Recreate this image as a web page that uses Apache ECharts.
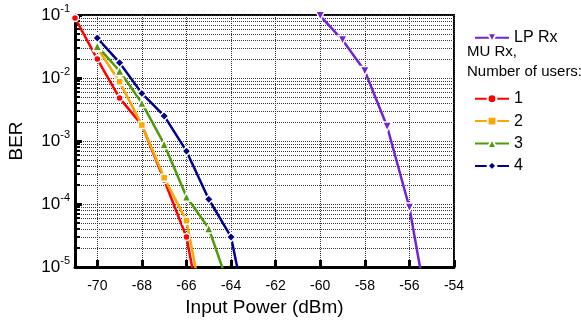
<!DOCTYPE html>
<html>
<head>
<meta charset="utf-8">
<script src="https://cdn.jsdelivr.net/npm/echarts@6/dist/echarts.min.js"></script>
<style>
html,body{margin:0;padding:0;background:#fff;}
#c{width:581px;height:322px;}
</style>
</head>
<body>
<div id="c"></div>
<script>
// ---- data ----
var xTicks = [-70, -68, -66, -64, -62, -60, -58, -56, -54];

var x1 = [-71, -70, -69, -68, -67, -66, -65];
var ber1 = [0.09, 0.02, 0.0048, 0.0018, 0.00024, 0.00003, 4e-7];

var x2 = [-70, -69, -68, -67, -66, -65];
var ber2 = [0.03, 0.0087, 0.0018, 0.00026, 0.000054, 8e-7];

var x3 = [-70, -69, -68, -67, -66, -65, -64];
var ber3 = [0.032, 0.0129, 0.0040, 0.00089, 0.00013, 0.000041, 3.9e-6];

var x4 = [-70, -69, -68, -67, -66, -65, -64, -63];
var ber4 = [0.043, 0.0175, 0.0057, 0.0025, 0.00069, 0.000119, 0.00003, 5.4e-7];

var xLP = [-60, -59, -58, -57, -56, -55];
var berLP = [0.097, 0.04, 0.0129, 0.0017, 0.000088, 9e-7];

var FONT = 'Liberation Sans, Arial, sans-serif';

function pairs(xs, ys) {
  return xs.map(function (x, i) { return [x, ys[i]]; });
}

function mk(name, xs, ys, color, symbol, size, rot) {
  return {
    name: name,
    type: 'line',
    data: pairs(xs, ys),
    symbol: symbol,
    symbolSize: size,
    symbolRotate: rot || 0,
    clip: true,
    lineStyle: { color: color, width: 2.5 },
    itemStyle: { color: color, borderColor: '#fff', borderWidth: 1.5 },
    z: 3
  };
}

var chart = echarts.init(document.getElementById('c'), null, { renderer: 'canvas' });
chart.setOption({
  animation: false,
  backgroundColor: '#fff',
  textStyle: { fontFamily: FONT },
  grid: {
    left: 75, top: 15, right: 127, bottom: 55,
    containLabel: false,
    outerBoundsMode: 'none',
    show: true, borderColor: '#000', borderWidth: 2, backgroundColor: 'transparent'
  },
  xAxis: {
    type: 'value',
    min: -71, max: -54,
    name: 'Input Power (dBm)',
    nameLocation: 'middle',
    nameGap: 29,
    nameTextStyle: { fontSize: 19, color: '#000', fontFamily: FONT },
    axisLine: { show: true, onZero: false, lineStyle: { color: '#000', width: 3 } },
    axisTick: { show: true, inside: true, length: 7, customValues: xTicks, lineStyle: { color: '#000', width: 3 } },
    axisLabel: { customValues: xTicks, fontSize: 14, color: '#000', margin: 12, fontFamily: FONT },
    splitLine: { show: true, lineStyle: { color: '#333', width: 1, type: [1, 1] } }
  },
  yAxis: {
    type: 'log',
    logBase: 10,
    min: 1e-5, max: 1e-1,
    interval: 1,
    name: 'BER',
    nameLocation: 'middle',
    nameGap: 49,
    nameTextStyle: { fontSize: 19, color: '#000', fontFamily: FONT },
    axisLine: { show: true, lineStyle: { color: '#000', width: 3 } },
    axisTick: { show: true, inside: true, length: 7, lineStyle: { color: '#000', width: 3 } },
    minorTick: { show: true, splitNumber: 9, length: 5, lineStyle: { color: '#000', width: 2 } },
    axisLabel: {
      margin: 5,
      formatter: function (v) {
        var e = Math.round(Math.log10(v));
        return '{b|10}{s|' + e + '}';
      },
      rich: {
        b: { fontSize: 17, color: '#000', fontFamily: FONT, lineHeight: 24, verticalAlign: 'middle' },
        s: { fontSize: 11, color: '#000', fontFamily: FONT, lineHeight: 12, verticalAlign: 'top' }
      }
    },
    splitLine: { show: true, lineStyle: { color: '#333', width: 1, type: [1, 1] } },
    minorSplitLine: { show: true, lineStyle: { color: '#333', width: 1, type: [1, 1] } }
  },
  legend: [
    {
      orient: 'vertical', left: 469, top: 24.7,
      itemWidth: 34, itemHeight: 11, itemGap: 6.4,
      textStyle: { fontSize: 16, color: '#000', lineHeight: 14, fontFamily: FONT },
      data: ['LP Rx']
    },
    {
      orient: 'vertical', left: 469, top: 85.7,
      itemWidth: 34, itemHeight: 11, itemGap: 6.4,
      textStyle: { fontSize: 16, color: '#000', lineHeight: 14, fontFamily: FONT },
      data: ['1', '2', '3', '4']
    }
  ],
  graphic: [
    { type: 'text', left: 467, top: 44, style: { text: 'MU Rx,', fontSize: 15, fill: '#000', fontFamily: FONT } },
    { type: 'text', left: 467, top: 64, style: { text: 'Number of users:', fontSize: 15, fill: '#000', fontFamily: FONT } }
  ],
  series: [
    mk('LP Rx', xLP, berLP, '#7422d6', 'triangle', 9, 180),
    mk('1', x1, ber1, '#ff0000', 'circle', 7),
    mk('2', x2, ber2, '#ffa500', 'rect', 7),
    mk('3', x3, ber3, '#4f9a0a', 'triangle', 9),
    mk('4', x4, ber4, '#000090', 'diamond', 9)
  ]
});
</script>
</body>
</html>
